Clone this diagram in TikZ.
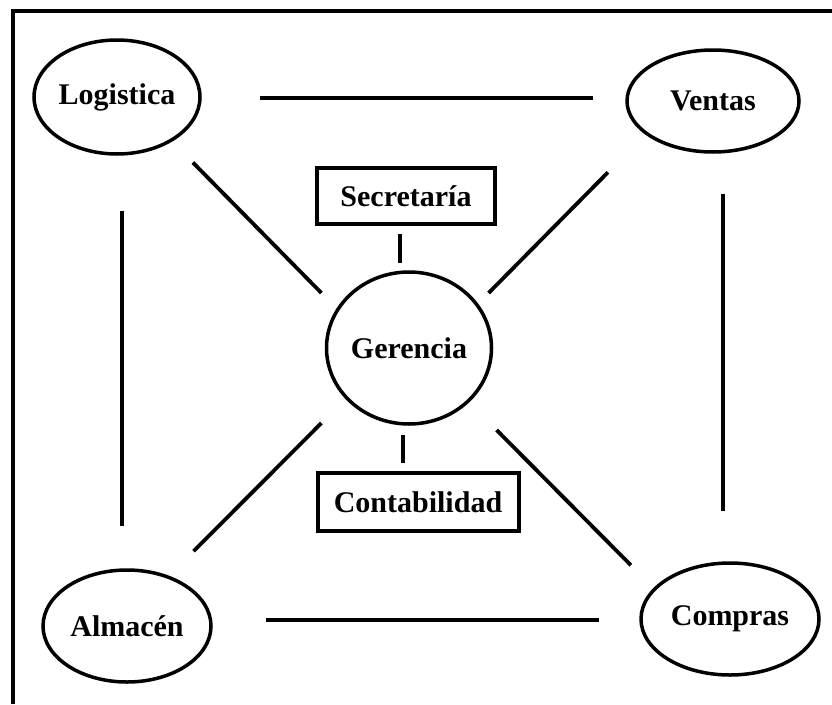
\documentclass[tikz,border=0pt]{standalone}
\usepackage{fontspec}
\setmainfont{Liberation Serif}
\usetikzlibrary{shapes.geometric}
\begin{document}
\begin{tikzpicture}[x=1pt, y=-1pt,
  area/.style={ellipse, draw, line width=3.5pt, inner sep=0pt, font=\fontsize{30}{36}\selectfont\bfseries},
  box/.style={rectangle, draw, line width=4pt, inner sep=0pt, font=\fontsize{30}{36}\selectfont\bfseries},
  link/.style={line width=3.8pt}]
\fill[white] (0,0) rectangle (832,704);
\useasboundingbox (0,0) rectangle (832,704);
\draw[line width=4pt] (13,704) -- (13,11) -- (832,11);

\node[area, minimum width=166pt, minimum height=114pt] (log) at (117,97) {Logistica};
\node[area, minimum width=172pt, minimum height=102pt] (ven) at (713,101) {Ventas};
\node[area, minimum width=168pt, minimum height=112pt] (alm) at (127,626) {Almacén};
\node[area, minimum width=178pt, minimum height=112pt] (com) at (730,619) {Compras};
\node[area, minimum width=165pt, minimum height=152pt] (ger) at (409,348) {Gerencia};
\node[box, minimum width=178pt, minimum height=56pt] (sec) at (406,196) {Secretaría};
\node[box, minimum width=201pt, minimum height=58pt] (con) at (418,502) {Contabilidad};

% outer ring
\draw[link] ([shift={(58,1)}]log.east) -- ([shift={(-32,-3)}]ven.west);
\draw[link] ([shift={(5,55)}]log.south) -- ([shift={(-5,-42)}]alm.north);
\draw[link] ([shift={(10,40)}]ven.south) -- ([shift={(-7,-50)}]com.north);
\draw[link] ([shift={(53,-6)}]alm.east) -- ([shift={(-40,1)}]com.west);
% to the centre
\draw[link] ([shift={(16,24)}]log.south east) -- ([shift={(-28,0)}]ger.north west);
\draw[link] ([shift={(-43,34)}]ven.south west) -- ([shift={(20,0)}]ger.north east);
\draw[link] ([shift={(6,-34)}]alm.north east) -- ([shift={(-28,20)}]ger.south west);
\draw[link] ([shift={(-35,-13)}]com.north west) -- ([shift={(28,27)}]ger.south east);
\draw[link] ([shift={(-6,8)}]sec.south) -- ([shift={(-9,-7)}]ger.north);
\draw[link] ([shift={(-6,9)}]ger.south) -- ([shift={(-15,-8)}]con.north);

\end{tikzpicture}
\end{document}
